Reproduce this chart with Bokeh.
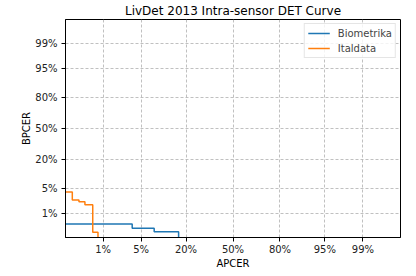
import math
from bokeh.plotting import figure
from bokeh.models import FixedTicker, Title, Range1d
from bokeh.embed import file_html
from bokeh.resources import INLINE

# ---- data (percent) ----
tick_pcts = [1, 5, 20, 50, 80, 95, 99]
tick_labels = ["1%", "5%", "20%", "50%", "80%", "95%", "99%"]

biometrika_apcer = [0.0, 3.55, 7.9, 16.5]
biometrika_bpcer = [0.43, 0.30, 0.225, 0.0]

italdata_apcer = [0.0, 0.20, 0.29, 0.40, 0.60, 0.78]
italdata_bpcer = [4.05, 2.47, 2.2, 1.78, 0.216, 0.0]

FONT = "DejaVu Sans"


def ppf(p):
    p = min(max(p, 1e-6), 1 - 1e-6)
    lo, hi = -10.0, 10.0
    for _ in range(100):
        mid = (lo + hi) / 2
        if 0.5 * (1 + math.erf(mid / math.sqrt(2))) < p:
            lo = mid
        else:
            hi = mid
    return (lo + hi) / 2


def probit(vals):
    return [ppf(v / 100.0) for v in vals]


p = figure(
    frame_width=335, frame_height=218,
    min_border_left=65, min_border_right=15, min_border_top=19, min_border_bottom=38,
    x_range=Range1d(-3, 3), y_range=Range1d(-3, 3),
    output_backend="svg", toolbar_location=None,
    background_fill_color="white", border_fill_color="white",
)

p.title = Title(text="LivDet 2013 Intra-sensor DET Curve", align="center",
                text_font=FONT, text_font_size="12px", text_font_style="normal",
                text_color="black", standoff=3, offset=0)

p.step(probit(biometrika_apcer), probit(biometrika_bpcer), mode="after",
       line_color="#1f77b4", line_width=1.5, legend_label="Biometrika")
p.step(probit(italdata_apcer), probit(italdata_bpcer), mode="after",
       line_color="#ff7f0e", line_width=1.5, legend_label="Italdata")

tick_pos = probit(tick_pcts)
overrides = {t: lab for t, lab in zip(tick_pos, tick_labels)}

for ax in (p.xaxis[0], p.yaxis[0]):
    ax.ticker = FixedTicker(ticks=tick_pos, minor_ticks=[])
    ax.major_label_overrides = overrides
    ax.major_label_text_font = FONT
    ax.major_label_text_font_size = "10px"
    ax.major_label_text_color = "#222222"
    ax.axis_label_text_font = FONT
    ax.axis_label_text_font_size = "10px"
    ax.axis_label_text_font_style = "normal"
    ax.axis_label_text_color = "black"
    ax.major_tick_in = 0
    ax.major_tick_out = 4
    ax.minor_tick_in = 0
    ax.minor_tick_out = 0
    ax.axis_line_color = "black"
    ax.major_tick_line_color = "black"

p.xaxis.axis_label = "APCER"
p.yaxis.axis_label = "BPCER"
p.xaxis.major_label_standoff = 2
p.xaxis.axis_label_standoff = 0
p.yaxis.major_label_standoff = 4
p.yaxis.axis_label_standoff = 0

p.grid.grid_line_color = "#b0b0b0"
p.grid.grid_line_dash = "3 2"
p.grid.grid_line_width = 0.8

p.outline_line_color = "black"
p.outline_line_width = 1
p.outline_line_alpha = 1

lg = p.legend[0]
lg.location = "top_right"
lg.margin = 4
lg.padding = 3
lg.spacing = 3
lg.label_height = 12
lg.glyph_height = 12
lg.glyph_width = 22
lg.label_standoff = 8
lg.label_text_font = FONT
lg.label_text_font_size = "10px"
lg.border_line_color = "#cccccc"
lg.border_line_width = 1
lg.background_fill_alpha = 0.8

open("out.html", "w").write(file_html(p, INLINE))
